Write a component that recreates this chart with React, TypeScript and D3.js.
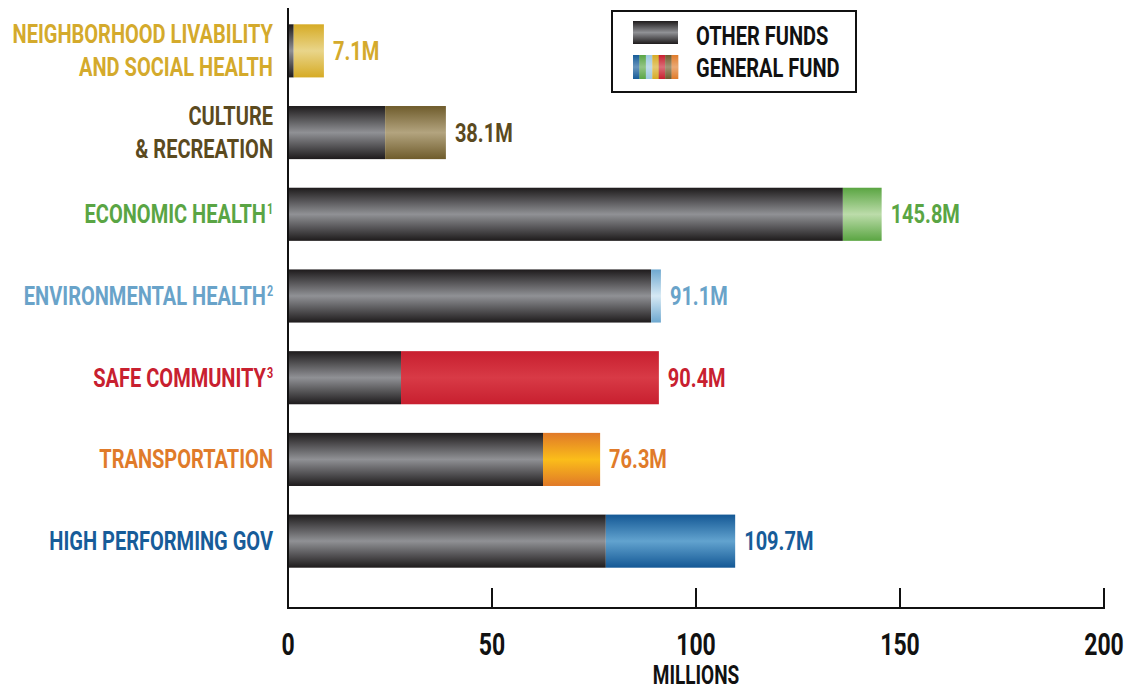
import React from "react";
import * as d3 from "d3";

const labelLines: string[][] = [
  ["NEIGHBORHOOD LIVABILITY", "AND SOCIAL HEALTH"],
  ["CULTURE", "& RECREATION"],
  ["ECONOMIC HEALTH"],
  ["ENVIRONMENTAL HEALTH"],
  ["SAFE COMMUNITY"],
  ["TRANSPORTATION"],
  ["HIGH PERFORMING GOV"],
];
const superscripts = ["", "", "1", "2", "3", "", ""];
const otherFunds = [1.4, 23.8, 136.0, 89.0, 27.7, 62.5, 77.9];
const generalFund = [7.4, 14.9, 9.5, 2.4, 63.2, 14.0, 31.7];
const totalLabels = ["7.1M", "38.1M", "145.8M", "91.1M", "90.4M", "76.3M", "109.7M"];
const xTicks = [0, 50, 100, 150, 200];

const labelColors = ["#d4aa2c", "#5b4a1f", "#5aa544", "#69a3c9", "#c8202f", "#e07b2a", "#175c99"];
const barEdge = ["#d6ab25", "#6f5c2c", "#5aa542", "#6ea8cf", "#c81f2f", "#e07928", "#145895"];
const barMid = ["#e9d58a", "#b3a47f", "#bcdcaa", "#d6e9f4", "#d83a46", "#fbbd1a", "#62a3cf"];
const legendStripes = ["#175c99", "#5aa544", "#9cc8e0", "#d6ab25", "#c8202f", "#6f5c2c", "#e07b2a"];

const W = 1129;
const H = 691;
const FONT = "Roboto, 'Noto Sans', sans-serif";
const SX = 0.77;

function CText(props: { x: number; y: number; size: number; fill: string; anchor?: string; children: any; sx?: number }) {
  const { x, y, size, fill, anchor = "start", children, sx = SX } = props;
  return (
    <text
      transform={`translate(${x},${y}) scale(${sx},1)`}
      fontFamily={FONT}
      fontWeight={700}
      fontSize={size}
      fill={fill}
      textAnchor={anchor}
    >
      {children}
    </text>
  );
}

export default function App() {
  const x = d3.scaleLinear().domain([0, 200]).range([288, 1104]);
  const y = d3
    .scaleBand<number>()
    .domain(d3.range(labelLines.length))
    .range([10, 582])
    .paddingInner(0.35)
    .paddingOuter(0.175);
  const bw = y.bandwidth();
  const axisY = 608;

  return (
    <svg width={W} height={H} style={{ position: "absolute", left: 0, top: 0, background: "#fff" }}>
      <defs>
        <linearGradient id="g-other" x1="0" y1="0" x2="0" y2="1">
          <stop offset="0" stopColor="#1e1b1c" />
          <stop offset="0.5" stopColor="#909195" />
          <stop offset="1" stopColor="#1e1b1c" />
        </linearGradient>
        {barEdge.map((c, i) => (
          <linearGradient key={i} id={`g-gen-${i}`} x1="0" y1="0" x2="0" y2="1">
            <stop offset="0" stopColor={c} />
            <stop offset="0.5" stopColor={barMid[i]} />
            <stop offset="1" stopColor={c} />
          </linearGradient>
        ))}
        <linearGradient id="g-stripe-light" x1="0" y1="0" x2="0" y2="1">
          <stop offset="0" stopColor="#fff" stopOpacity={0} />
          <stop offset="0.5" stopColor="#fff" stopOpacity={0.35} />
          <stop offset="1" stopColor="#fff" stopOpacity={0} />
        </linearGradient>
      </defs>

      {labelLines.map((lines, i) => {
        const y0 = (y(i) as number) + bw / 2;
        const x0 = x(0) + 1;
        const x1 = x(otherFunds[i]);
        const x2 = x(otherFunds[i] + generalFund[i]);
        const baselines = lines.length === 1 ? [y0 + 9] : [y0 - 7.5, y0 + 25.5];
        return (
          <g key={i}>
            <rect x={x0} y={y(i)} width={Math.max(0, x1 - x0)} height={bw} fill="url(#g-other)" />
            <rect x={x1} y={y(i)} width={x2 - x1} height={bw} fill={`url(#g-gen-${i})`} />
            {lines.map((ln, j) => (
              <CText key={j} x={273 - (superscripts[i] ? 7 : 0)} y={baselines[j]} size={26} fill={labelColors[i]} anchor="end">
                {ln}
              </CText>
            ))}
            {superscripts[i] && (
              <CText x={267} y={baselines[0] - 9} size={14} fill={labelColors[i]}>
                {superscripts[i]}
              </CText>
            )}
            <CText x={x2 + 9} y={y0 + 9} size={26} fill={labelColors[i]}>
              {totalLabels[i]}
            </CText>
          </g>
        );
      })}

      {/* axes */}
      <line x1={x(0)} x2={x(0)} y1={8} y2={axisY + 1} stroke="#111" strokeWidth={2} />
      <line x1={x(0) - 1} x2={x(200) + 1} y1={axisY} y2={axisY} stroke="#111" strokeWidth={2} />
      {xTicks.map((t) => (
        <g key={t}>
          {t > 0 && <line x1={x(t)} x2={x(t)} y1={axisY - 20} y2={axisY} stroke="#111" strokeWidth={2} />}
          <CText x={x(t)} y={655} size={32} fill="#111" anchor="middle" sx={0.72}>
            {String(t)}
          </CText>
        </g>
      ))}
      <CText x={(x(0) + x(200)) / 2} y={684} size={25} fill="#111" anchor="middle" sx={0.76}>
        MILLIONS
      </CText>

      {/* legend */}
      <rect x={612} y={11} width={244} height={81} fill="#fff" stroke="#111" strokeWidth={2} />
      <rect x={633} y={21} width={45} height={23} fill="url(#g-other)" />
      {legendStripes.map((c, k) => (
        <rect key={k} x={633 + (k * 45) / legendStripes.length} y={55} width={45 / legendStripes.length + 0.3} height={24} fill={c} />
      ))}
      <rect x={633} y={55} width={45} height={24} fill="url(#g-stripe-light)" />
      <CText x={696} y={45} size={26} fill="#111">
        OTHER FUNDS
      </CText>
      <CText x={696} y={77} size={26} fill="#111">
        GENERAL FUND
      </CText>
    </svg>
  );
}
